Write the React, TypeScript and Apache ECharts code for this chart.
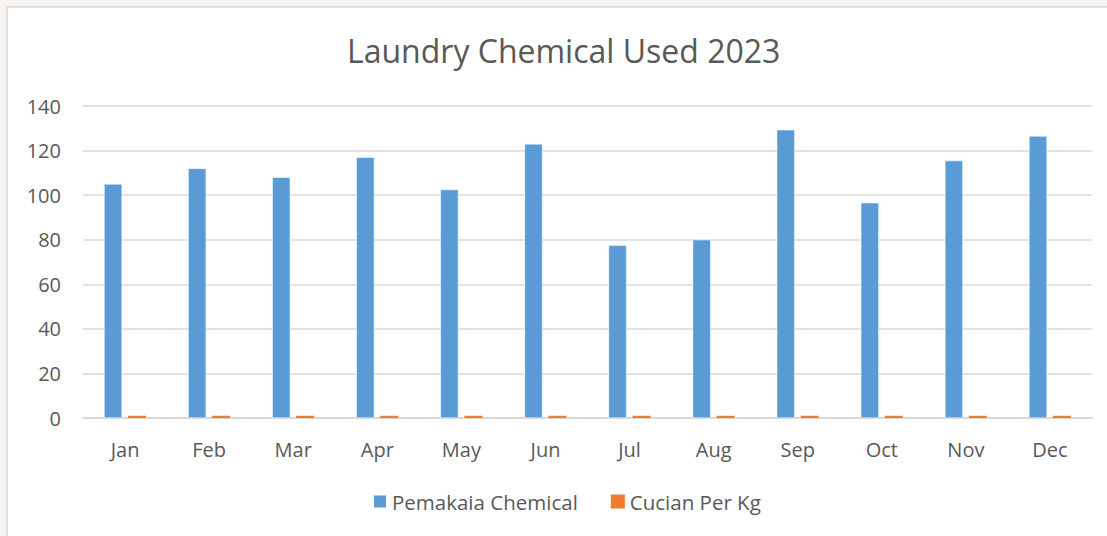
import React, { useEffect, useRef } from "react";
import * as echarts from "echarts";

const months = ["Jan", "Feb", "Mar", "Apr", "May", "Jun", "Jul", "Aug", "Sep", "Oct", "Nov", "Dec"];
const pemakaiaChemical = [105, 112, 108, 117, 102.5, 123, 77.5, 80, 129.3, 96.6, 115.5, 126.5];
const cucianPerKg = [1, 1, 1, 1, 1, 1, 1, 1, 1, 1, 1, 1];
const seriesNames = ["Pemakaia Chemical", "Cucian Per Kg"];
const chartTitle = "Laundry Chemical Used 2023";

const FONT = "'Open Sans', 'Noto Sans', sans-serif";
const TEXT = "#595959";

export default function App() {
  const ref = useRef<HTMLDivElement>(null);
  useEffect(() => {
    if (!ref.current) return;
    const chart = echarts.init(ref.current, undefined, { renderer: "svg" });
    chart.setOption({
      animation: false,
      backgroundColor: "#f9f6f1",
      graphic: [
        {
          type: "rect",
          z: -10,
          silent: true,
          shape: { x: 7, y: 7, width: 1110, height: 540 },
          style: { fill: "#ffffff", stroke: "#d9d9d9", lineWidth: 1.5 },
        },
      ],
      title: {
        text: chartTitle,
        left: 342,
        top: 29,
        textStyle: { fontFamily: FONT, fontSize: 32, fontWeight: "normal", color: TEXT },
      },
      legend: {
        bottom: 19,
        left: 367,
        itemWidth: 14,
        itemHeight: 14,
        itemGap: 33,
        icon: "rect",
        textStyle: { fontFamily: FONT, fontSize: 20.5, color: TEXT },
        data: seriesNames,
      },
      grid: { left: 83, right: 15, top: 106, bottom: 118, containLabel: false },
      xAxis: {
        type: "category",
        data: months,
        axisTick: { show: false },
        axisLine: { lineStyle: { color: "#d9d9d9", width: 2 } },
        axisLabel: { fontFamily: FONT, fontSize: 20, color: TEXT, margin: 21 },
      },
      yAxis: {
        type: "value",
        min: 0,
        max: 140,
        interval: 20,
        axisLine: { show: false },
        axisTick: { show: false },
        splitLine: { lineStyle: { color: "#d9d9d9", width: 1.5 } },
        axisLabel: { fontFamily: FONT, fontSize: 20, color: TEXT, margin: 22 },
      },
      series: [
        {
          name: seriesNames[0],
          type: "bar",
          data: pemakaiaChemical,
          barWidth: 18,
          barGap: "33%",
          itemStyle: { color: "#5b9bd5", borderColor: "#ffffff", borderWidth: 0.5 },
        },
        {
          name: seriesNames[1],
          type: "bar",
          data: cucianPerKg,
          barWidth: 18,
          barGap: "33%",
          itemStyle: { color: "#ed7d31" },
        },
      ],
    });
    return () => chart.dispose();
  }, []);
  return (
    <div style={{ position: "absolute", left: 0, top: 0, width: 1107, height: 536 }}>
      <div ref={ref} style={{ width: 1107, height: 536 }} />
    </div>
  );
}
